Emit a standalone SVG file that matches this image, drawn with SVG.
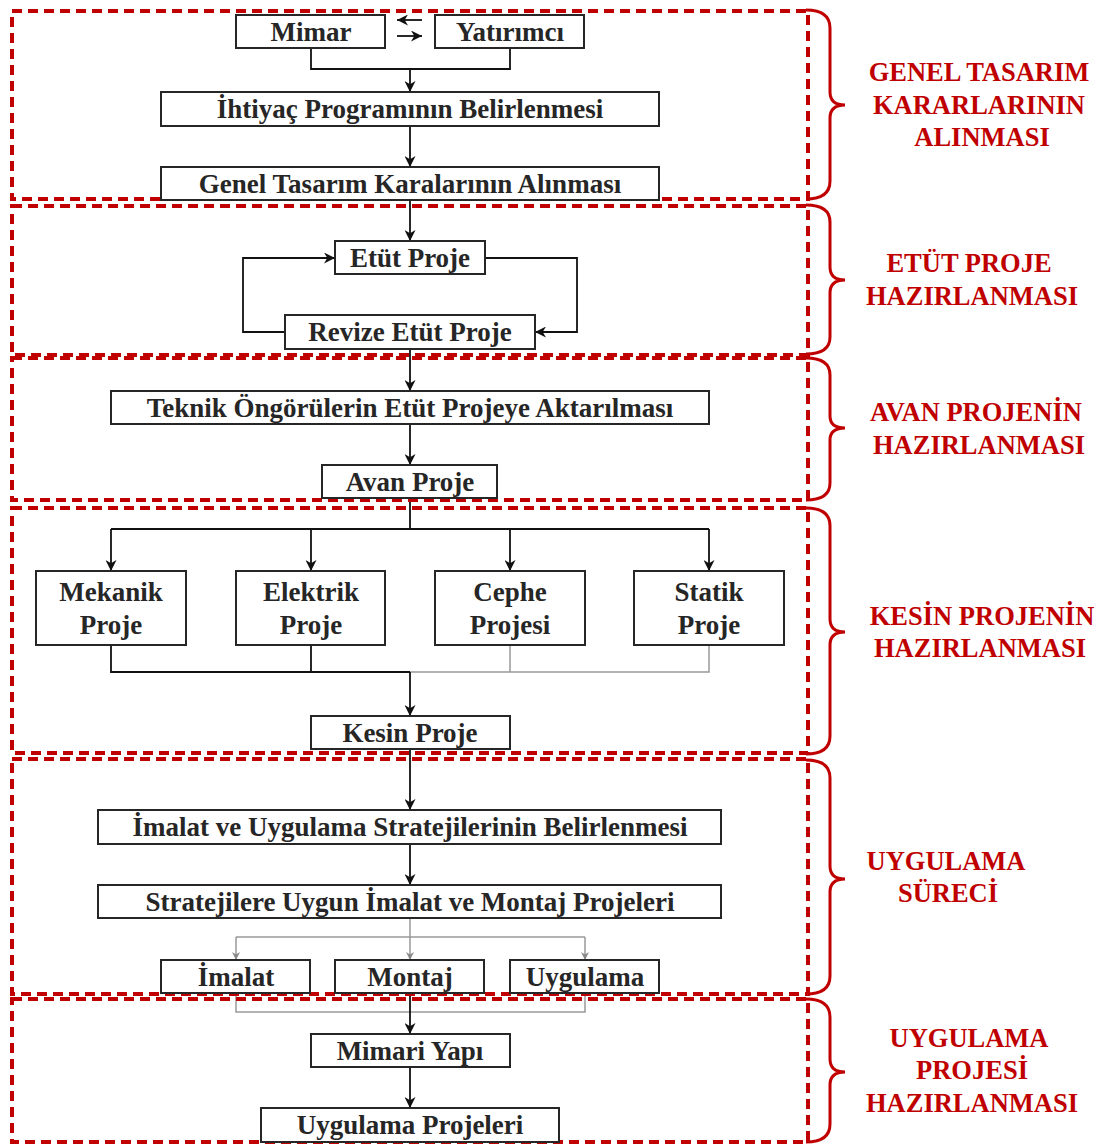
<svg xmlns="http://www.w3.org/2000/svg" width="1101" height="1146" viewBox="0 0 1101 1146">
<defs>
<marker id="ah" viewBox="0 0 10 10" refX="10" refY="5" markerWidth="11" markerHeight="11" markerUnits="userSpaceOnUse" orient="auto"><path d="M0,0 L10,5 L0,10 L3,5 Z" fill="#111"/></marker>
<marker id="ahg" viewBox="0 0 10 10" refX="10" refY="5" markerWidth="8" markerHeight="8" markerUnits="userSpaceOnUse" orient="auto"><path d="M0,0 L10,5 L0,10 L3,5 Z" fill="#888"/></marker>
<style>
.sec{fill:none;stroke:#C00000;stroke-width:4;stroke-dasharray:10 6}
.br{fill:none;stroke:#C00000;stroke-width:3}
.lab{font-family:"Liberation Serif","Times New Roman",serif;font-weight:bold;font-size:26.5px;fill:#C00000;text-anchor:middle}
.box{fill:#fff;stroke:#262626;stroke-width:2}
.t{font-family:"Liberation Serif","Times New Roman",serif;font-weight:bold;font-size:27px;fill:#262626;text-anchor:middle}
.c{fill:none;stroke:#111;stroke-width:1.8}
.g{fill:none;stroke:#999;stroke-width:1.5}
</style>
</defs>
<rect width="1101" height="1146" fill="#fff"/>

<g id="connectors">
<path class="c" d="M311,48 V69 H510 V48"/>
<path class="c" d="M410,69 V92" marker-end="url(#ah)"/>
<path class="c" d="M422,20 H397" stroke-width="2" marker-end="url(#ah)"/>
<path class="c" d="M397,36 H422" stroke-width="2" marker-end="url(#ah)"/>
<path class="c" d="M410,126 V167" marker-end="url(#ah)"/>
<path class="c" d="M410,200 V241" marker-end="url(#ah)"/>
<path class="c" d="M485,258 H577 V332 H535" marker-end="url(#ah)"/>
<path class="c" d="M285,332 H243 V258 H335" marker-end="url(#ah)"/>
<path class="c" d="M410,349 V391" marker-end="url(#ah)"/>
<path class="c" d="M410,424 V465" marker-end="url(#ah)"/>
<path class="c" d="M410,498 V529 M111,529 H709"/>
<path class="c" d="M111,529 V571" marker-end="url(#ah)"/>
<path class="c" d="M311,529 V571" marker-end="url(#ah)"/>
<path class="c" d="M510,529 V571" marker-end="url(#ah)"/>
<path class="c" d="M709,529 V571" marker-end="url(#ah)"/>
<path class="c" d="M111,645 V672 H410 M311,645 V672"/>
<path class="g" d="M510,645 V672 H709 V645 M410,672 H510"/>
<path class="c" d="M410,672 V716" marker-end="url(#ah)"/>
<path class="c" d="M410,749 V810" marker-end="url(#ah)"/>
<path class="c" d="M410,844 V885" marker-end="url(#ah)"/>
<path class="g" d="M410,918 V960" marker-end="url(#ahg)"/>
<path class="g" d="M236,937 H585"/>
<path class="g" d="M236,937 V960" marker-end="url(#ahg)"/>
<path class="g" d="M585,937 V960" marker-end="url(#ahg)"/>
<path class="g" d="M236,993 V1012 H585 V993"/>
<path class="c" d="M410,993 V1034" marker-end="url(#ah)"/>
<path class="c" d="M410,1067 V1108" marker-end="url(#ah)"/>
</g>

<g id="sections">
<rect class="sec" x="12" y="11" width="796" height="188"/>
<rect class="sec" x="12" y="206" width="796" height="149"/>
<rect class="sec" x="12" y="358" width="796" height="142"/>
<rect class="sec" x="12" y="508" width="796" height="245"/>
<rect class="sec" x="12" y="759" width="796" height="235"/>
<rect class="sec" x="12" y="999" width="796" height="143"/>
</g>

<g id="braces">
<path class="br" d="M806,10 Q830,10 830,28 V92 Q830,105 845,105 Q830,105 830,118 V181 Q830,199 806,199"/>
<path class="br" d="M806,205 Q830,205 830,222 V267 Q830,280 845,280 Q830,280 830,293 V337 Q830,354 806,354"/>
<path class="br" d="M806,358 Q830,358 830,375 V416 Q830,428 845,428 Q830,428 830,440 V483 Q830,500 806,500"/>
<path class="br" d="M806,508 Q830,508 830,526 V619 Q830,632 845,632 Q830,632 830,645 V736 Q830,754 806,754"/>
<path class="br" d="M806,760 Q830,760 830,778 V866 Q830,879 845,879 Q830,879 830,892 V976 Q830,994 806,994"/>
<path class="br" d="M806,999 Q830,999 830,1017 V1059 Q830,1072 845,1072 Q830,1072 830,1085 V1124 Q830,1142 806,1142"/>
</g>

<g id="labels">
<text class="lab" x="979" y="81">GENEL TASARIM</text>
<text class="lab" x="979" y="114">KARARLARININ</text>
<text class="lab" x="982" y="146">ALINMASI</text>
<text class="lab" x="969" y="272">ETÜT PROJE</text>
<text class="lab" x="972" y="305">HAZIRLANMASI</text>
<text class="lab" x="976" y="421">AVAN PROJENİN</text>
<text class="lab" x="979" y="454">HAZIRLANMASI</text>
<text class="lab" x="982" y="625">KESİN PROJENİN</text>
<text class="lab" x="980" y="657">HAZIRLANMASI</text>
<text class="lab" x="946" y="870">UYGULAMA</text>
<text class="lab" x="948" y="902">SÜRECİ</text>
<text class="lab" x="969" y="1047">UYGULAMA</text>
<text class="lab" x="972" y="1079">PROJESİ</text>
<text class="lab" x="972" y="1112">HAZIRLANMASI</text>
</g>

<g id="n-mimar"><rect class="box" x="236" y="15" width="149" height="33"/><text class="t" x="311" y="41">Mimar</text></g>
<g id="n-yatirimci"><rect class="box" x="435" y="15" width="149" height="33"/><text class="t" x="510" y="41">Yatırımcı</text></g>
<g id="n-ihtiyac"><rect class="box" x="161" y="92" width="498" height="34"/><text class="t" x="410" y="118">İhtiyaç Programının Belirlenmesi</text></g>
<g id="n-genel"><rect class="box" x="161" y="167" width="498" height="33"/><text class="t" x="410" y="193">Genel Tasarım Karalarının Alınması</text></g>
<g id="n-etut"><rect class="box" x="335" y="241" width="150" height="33"/><text class="t" x="410" y="267">Etüt Proje</text></g>
<g id="n-revize"><rect class="box" x="285" y="315" width="250" height="34"/><text class="t" x="410" y="341">Revize Etüt Proje</text></g>
<g id="n-teknik"><rect class="box" x="111" y="391" width="598" height="33"/><text class="t" x="410" y="417">Teknik Öngörülerin Etüt Projeye Aktarılması</text></g>
<g id="n-avan"><rect class="box" x="322" y="465" width="175" height="33"/><text class="t" x="410" y="491">Avan Proje</text></g>
<g id="n-mekanik"><rect class="box" x="36" y="571" width="150" height="74"/><text class="t" x="111" y="601">Mekanik</text><text class="t" x="111" y="634">Proje</text></g>
<g id="n-elektrik"><rect class="box" x="236" y="571" width="149" height="74"/><text class="t" x="311" y="601">Elektrik</text><text class="t" x="311" y="634">Proje</text></g>
<g id="n-cephe"><rect class="box" x="435" y="571" width="150" height="74"/><text class="t" x="510" y="601">Cephe</text><text class="t" x="510" y="634">Projesi</text></g>
<g id="n-statik"><rect class="box" x="634" y="571" width="150" height="74"/><text class="t" x="709" y="601">Statik</text><text class="t" x="709" y="634">Proje</text></g>
<g id="n-kesin"><rect class="box" x="311" y="716" width="199" height="33"/><text class="t" x="410" y="742">Kesin Proje</text></g>
<g id="n-imalatstrat"><rect class="box" x="98" y="810" width="623" height="34"/><text class="t" x="410" y="836">İmalat ve Uygulama Stratejilerinin Belirlenmesi</text></g>
<g id="n-stratejilere"><rect class="box" x="98" y="885" width="623" height="33"/><text class="t" x="410" y="911">Stratejilere Uygun İmalat ve Montaj Projeleri</text></g>
<g id="n-imalat"><rect class="box" x="161" y="960" width="149" height="33"/><text class="t" x="236" y="986">İmalat</text></g>
<g id="n-montaj"><rect class="box" x="335" y="960" width="149" height="33"/><text class="t" x="410" y="986">Montaj</text></g>
<g id="n-uygulama"><rect class="box" x="510" y="960" width="149" height="33"/><text class="t" x="585" y="986">Uygulama</text></g>
<g id="n-mimariyapi"><rect class="box" x="311" y="1034" width="199" height="33"/><text class="t" x="410" y="1060">Mimari Yapı</text></g>
<g id="n-uygproj"><rect class="box" x="261" y="1108" width="298" height="34"/><text class="t" x="410" y="1134">Uygulama Projeleri</text></g>
</svg>
